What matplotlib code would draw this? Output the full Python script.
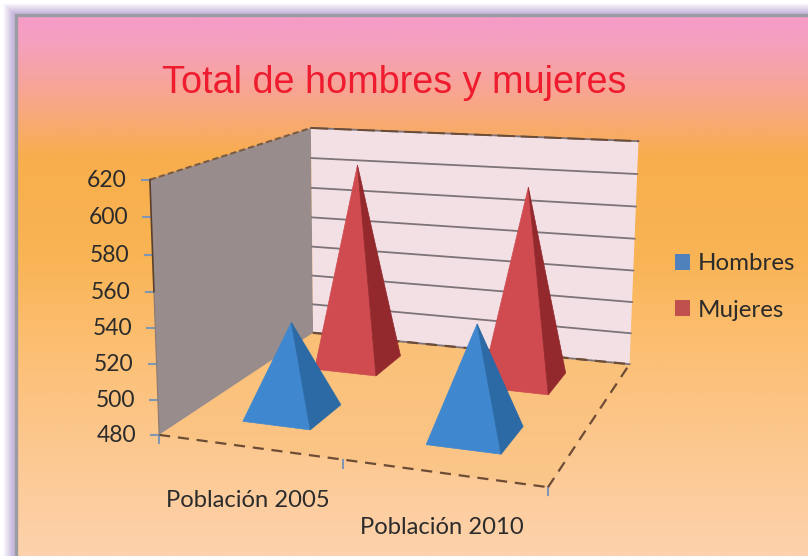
import numpy as np
import matplotlib
matplotlib.use("Agg")
import matplotlib.pyplot as plt
from matplotlib.patches import Polygon, Patch
from matplotlib.colors import LinearSegmentedColormap

categories = ["Población 2005", "Población 2010"]
series_names = ["Hombres", "Mujeres"]
hombres = [533, 542]
mujeres = [606, 598]
value_ticks = [480, 500, 520, 540, 560, 580, 600, 620]

W, H = 808, 556
VMIN, VMAX = value_ticks[0], value_ticks[-1]
NCAT = len(categories)

# camera calibration: box corners (category, depth, value) -> figure position
box = np.array([(0, 0, 480), (0, 1, 480), (2, 1, 480), (2, 0, 480),
                (0, 0, 620), (0, 1, 620), (2, 1, 620)], float)
scr = np.array([(160, 433), (312, 335), (630, 362), (548, 489),
                (149, 180), (312, 127), (638, 142)], float)


def _norm(p):
    p = np.asarray(p, float)
    return np.stack([p[..., 0], p[..., 1], (p[..., 2] - VMIN) / (VMAX - VMIN)], -1)


A, b = [], []
for q, (u, v) in zip(_norm(box), scr):
    x, y, z = q
    A.append([x, y, z, 1, 0, 0, 0, 0, -u * x, -u * y, -u * z])
    A.append([0, 0, 0, 0, x, y, z, 1, -v * x, -v * y, -v * z])
    b += [u, v]
P = np.append(np.linalg.lstsq(np.array(A), np.array(b), rcond=None)[0], 1).reshape(3, 4)


def proj(x, y, z):
    q = _norm((x, y, z))
    h = P @ np.append(q, 1)
    return h[0] / h[2], h[1] / h[2]


fig = plt.figure(figsize=(W / 100, H / 100), dpi=100)
ax = fig.add_axes([0, 0, 1, 1])
ax.set_xlim(0, W)
ax.set_ylim(H, 0)
ax.axis("off")

# frame glow and gradient background
yy, xx = np.mgrid[0:H, 0:W]
d = np.minimum(xx + 0.5, yy + 0.5)
glow = np.clip((d - 3) / 10, 0, 1)[..., None]
bg = (1 - glow) * np.array([1, 1, 1.0]) + glow * np.array([0.78, 0.72, 0.86])
ax.imshow(bg, extent=(0, W, H, 0), zorder=0, aspect="auto")
cmap = LinearSegmentedColormap.from_list("bg", [
    (0.0, "#f59cc8"), (0.05, "#f5a0be"), (0.12, "#f7a49c"), (0.2, "#f8aa70"), (0.26, "#f8ae4c"),
    (0.45, "#f9b455"), (0.62, "#fcbf74"), (0.8, "#fcc890"), (1.0, "#fdd2ac")])
grad = np.linspace(0, 1, 256)[:, None]
ax.imshow(grad, extent=(17, W + 2, H, 16), cmap=cmap, zorder=1, aspect="auto")
ax.plot([16, 16, W + 2], [H + 2, 15, 15], color="#9b9ba3", lw=2.4, zorder=2, solid_joinstyle="miter")
ax.set_xlim(0, W)
ax.set_ylim(H, 0)


def quad(pts, **kw):
    ax.add_patch(Polygon([proj(*p) for p in pts], closed=True, **kw))


def seg(p, q, **kw):
    a, c = proj(*p), proj(*q)
    ax.plot([a[0], c[0]], [a[1], c[1]], **kw)


# walls and floor
quad([(0, 0, VMIN), (0, 1, VMIN), (0, 1, VMAX), (0, 0, VMAX)], fc="#998c8d", ec="none", zorder=3)
quad([(0, 1, VMIN), (NCAT, 1, VMIN), (NCAT, 1, VMAX), (0, 1, VMAX)], fc="#f3e0e5", ec="none", zorder=3)
quad([(0, 0, VMIN), (NCAT, 0, VMIN), (NCAT, 1, VMIN), (0, 1, VMIN)], fc="#fac27c", ec="none", alpha=0.5, zorder=3)

for v in value_ticks:
    seg((0, 1, v), (NCAT, 1, v), color="#7d7378", lw=1.3, zorder=4)
    a = proj(0, 0, v)
    ax.plot([a[0] - 8, a[0]], [a[1], a[1]], color="#7f97b5", lw=1.5, zorder=4)
    ax.text(a[0] - 23, a[1] + 0.5, str(v), ha="right", va="center", family="Lato",
            fontsize=16.5, color="#2b2b2b", zorder=6)

dash = dict(color="#6d4c35", lw=1.6, ls=(0, (5, 3.5)), zorder=4.5)
seg((0, 0, VMIN), (NCAT, 0, VMIN), **dash)
seg((NCAT, 0, VMIN), (NCAT, 1, VMIN), **dash)
seg((0, 1, VMIN), (NCAT, 1, VMIN), **dash)
seg((0, 0, VMAX), (0, 1, VMAX), color="#7a5c42", lw=1.5, ls=(0, (3, 1.5)), zorder=4.5)
seg((0, 1, VMAX), (NCAT, 1, VMAX), color="#6d4c35", lw=1.4, ls=(0, (9, 3)), zorder=4.5)
seg((0, 0, VMIN), (0, 0, 560), color="#8a7a70", lw=0.8, zorder=4.5)
seg((0, 0, 560), (0, 0, VMAX), color="#5a3f2c", lw=1.2, zorder=4.5)

for k in range(NCAT + 1):
    a = proj(k, 0, VMIN)
    ax.plot([a[0], a[0]], [a[1], a[1] + 8], color="#7f97b5", lw=1.5, zorder=4)

for k, name in enumerate(categories):
    a = proj(k + 0.5, 0, VMIN)
    ax.text(a[0] - 1, a[1] + 54, name, ha="center", va="center", family="Lato",
            fontsize=17.1, color="#2b2b2b", zorder=6)


def pyramid(xc, yc, value, front, side):
    dx, dy = 0.19, 0.105
    apex = (xc, yc, value)
    fl = (xc - dx, yc - dy, VMIN)
    fr = (xc + dx, yc - dy, VMIN)
    br = (xc + dx, yc + dy, VMIN)
    quad([fl, fr, apex], fc=front, ec=front, lw=0.5, zorder=5)
    quad([fr, br, apex], fc=side, ec=side, lw=0.5, zorder=5)


for i in range(NCAT):
    pyramid(i + 0.5, 0.75, mujeres[i], "#cf4b50", "#93292d")
for i in range(NCAT):
    pyramid(i + 0.5, 0.27, hombres[i], "#3f87cf", "#2b6aa5")

ax.text(394.5, 83, "Total de hombres y mujeres", ha="center", va="center",
        family="Liberation Sans", fontsize=27.2, color="#ee1c2e", zorder=6)

handles = [Patch(fc="#4f81bd", ec="none"), Patch(fc="#c0504d", ec="none")]
ax.legend(handles, series_names, loc="upper left", bbox_to_anchor=(668 / W, 1 - 246 / H),
          frameon=False, prop={"family": "Lato", "size": 17.4}, handlelength=0.62, handleheight=0.62,
          handletextpad=0.3, labelspacing=1.05, borderpad=0.3, borderaxespad=0, labelcolor="#2b2b2b")

fig.savefig("out.png", dpi=100)
